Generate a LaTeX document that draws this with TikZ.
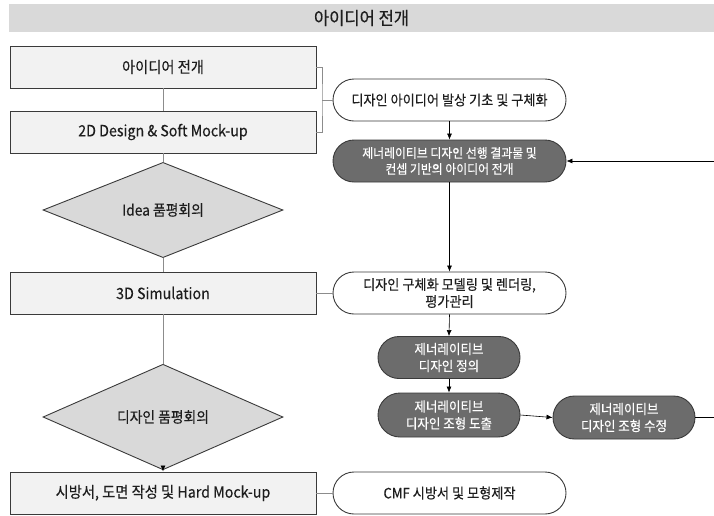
\documentclass[tikz,border=0pt]{standalone}
\usepackage{fontspec}
\newfontfamily\kr[FakeStretch=0.92,FakeBold=0.25]{Noto Sans CJK KR}
\usetikzlibrary{shapes.geometric,shapes.misc,arrows.meta}
\definecolor{boxfill}{HTML}{F2F2F2}
\definecolor{diafill}{HTML}{D9D9D9}
\definecolor{titlefill}{HTML}{D9D9D9}
\definecolor{edge}{HTML}{3A3A3A}
\definecolor{darkpill}{HTML}{6C6C6C}
\definecolor{linkgray}{HTML}{8C8C8C}
\definecolor{ink}{HTML}{1E1E1E}
\begin{document}
\begin{tikzpicture}[x=1pt,y=-1pt,
  box/.style={draw=edge, fill=boxfill, line width=0.9pt, minimum width=306pt,
    minimum height=42pt, inner sep=0pt, text=ink, font=\kr\fontsize{15.5}{18}\selectfont},
  dia/.style={diamond, draw=edge, fill=diafill, line width=0.9pt, inner sep=0pt,
    minimum width=240pt, minimum height=54pt, text=ink, font=\kr\fontsize{15}{18}\selectfont},
  pill/.style={rounded rectangle, draw=edge, fill=white, line width=0.9pt,
    minimum width=233pt, minimum height=42pt, inner sep=0pt, align=center, text=ink,
    font=\kr\fontsize{14.3}{17}\selectfont},
  dpill/.style={pill, fill=darkpill, text=white, font=\kr\fontsize{13.6}{17}\selectfont},
  link/.style={draw=linkgray, line width=0.8pt},
  flow/.style={draw=black, line width=0.6pt, -{Latex[length=6pt,width=5pt]}}
]
\useasboundingbox (0,0) rectangle (714,515);

% heading bar
\node[fill=titlefill, minimum width=705pt, minimum height=28pt, inner sep=0pt, text=ink,
  font=\kr\fontsize{18}{20}\selectfont] (title) at (361.5,18) {아이디어 전개};

% main process column
\node[box] (b1) at (163,67) {아이디어 전개};
\node[box] (b2) at (163,132) {2D Design \& Soft Mock-up};
\node[dia] (d1) at (163,210) {Idea 품평회의};
\node[box] (b3) at (163,293) {3D Simulation};
\node[dia] (d2) at (163,417) {디자인 품평회의};
\node[box] (b4) at (163,493) {시방서, 도면 작성 및 Hard Mock-up};

% detail column
\node[pill] (p1) at (449.5,100) {디자인 아이디어 발상 기초 및 구체화};
\node[dpill, font=\kr\fontsize{12.9}{16}\selectfont] (p2) at (449.5,161)
  {제너레이티브 디자인 선행 결과물 및\\컨셉 기반의 아이디어 전개};
\node[pill] (p3) at (449.5,293) {디자인 구체화 모델링 및 렌더링,\\평가관리};
\node[dpill, minimum width=142pt, minimum height=42pt] (p4) at (449,357.5) {제너레이티브\\디자인 정의};
\node[dpill, minimum width=142pt, minimum height=44pt] (p5) at (449,415) {제너레이티브\\디자인 조형 도출};
\node[dpill, minimum width=142pt, minimum height=43pt] (p6) at (624,417.5) {제너레이티브\\디자인 조형 수정};
\node[pill] (p7) at (449.5,493) {CMF 시방서 및 모형제작};

% vertical links of the main column
\draw[link] (b1.south) -- (b2.north);
\draw[link] (b2.south) -- (d1.north);
\draw[link] (d1.south) -- (b3.north);
\draw[link] (b3.south) -- (d2.north);
\draw[link, -{Latex[length=6pt,width=5pt,color=black]}] (d2.south) -- (b4.north);

% bracket joining the first two steps to their detail
\coordinate (br) at (322,100);
\draw[link, line width=0.6pt] (b1.east) -| (br) |- (b2.east);
\draw[link, line width=0.6pt] (br) -- (p1.west);
\draw[link] (b3.east) -- (p3.west);
\draw[link] (b4.east) -- (p7.west);

% detail flow
\draw[flow] (p1.south) -- (p2.north);
\draw[flow] (p2.south) -- (p3.north);
\draw[flow] (p3.south) -- (p4.north);
\draw[flow] (p4.south) -- (p5.north);
\draw[flow] (p5.east) -- (p6.west);

% feedback loop running past the right edge
\coordinate (out) at (714,417.5);
\coordinate (back) at (714,161);
\draw[draw=black, line width=0.6pt] (p6.east) -- (out);
\draw[flow] (back) -- (p2.east);
\end{tikzpicture}
\end{document}
